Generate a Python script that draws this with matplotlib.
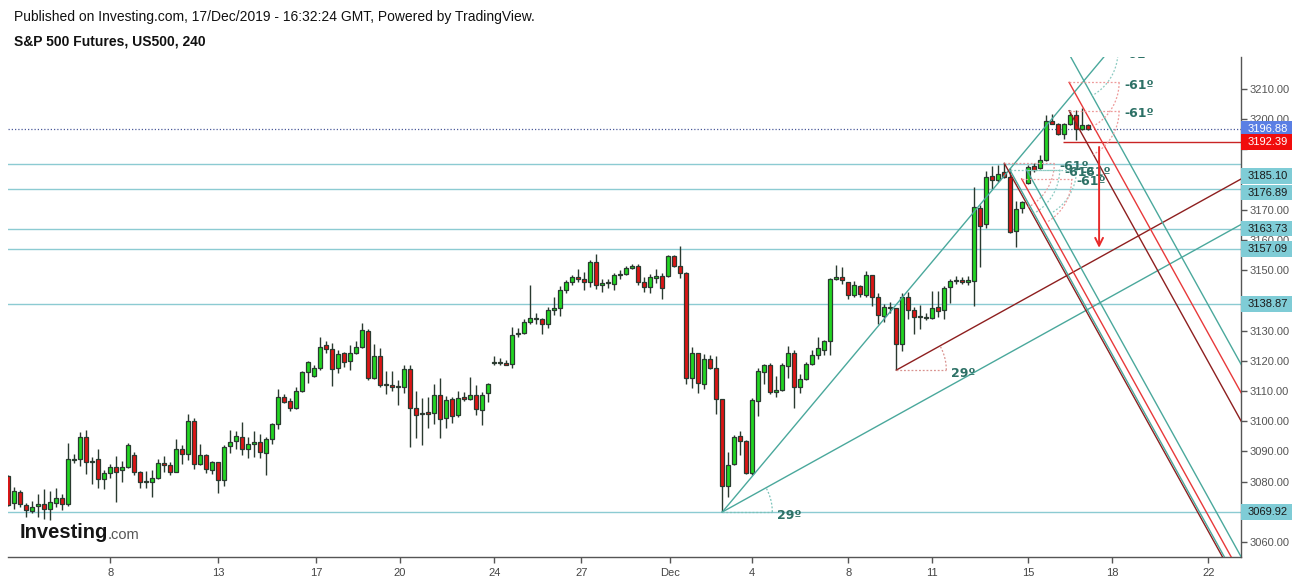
import numpy as np
import matplotlib
matplotlib.use('Agg')
import matplotlib.pyplot as plt
from matplotlib.patches import Rectangle
import matplotlib.transforms as mtransforms

# ---------------- data (4h candles, bar index 0..180) ----------------
opens = [3081.8,3072.8,3076.4,3072.1,3070.4,3071.8,3072.5,3070.8,3072.8,3074.5,
         3072.5,3087.0,3087.4,3094.6,3086.7,3087.4,3080.7,3082.7,3084.7,3083.7,
         3084.7,3088.7,3083.1,3080.1,3080.0,3081.1,3086.0,3085.4,3083.3,3090.7,
         3089.0,3100.0,3085.7,3088.7,3083.7,3086.4,3080.4,3091.7,3093.3,3094.6,
         3090.7,3092.3,3093.0,3089.4,3094.0,3099.0,3107.9,3106.6,3104.3,3109.9,
         3116.2,3114.9,3117.5,3125.1,3123.8,3117.5,3122.5,3119.8,3122.5,3124.5,
         3129.8,3114.2,3121.5,3112.2,3111.9,3111.5,3111.2,3117.2,3104.3,3102.6,
         3102.9,3102.6,3108.6,3101.0,3107.2,3101.9,3107.9,3107.2,3108.6,3103.6,
         3109.2,3119.2,3119.5,3119.2,3118.8,3128.8,3129.1,3132.7,3134.1,3133.7,
         3132.1,3136.7,3137.4,3143.3,3146.0,3147.6,3147.0,3146.0,3152.6,3145.0,
         3146.0,3145.3,3148.3,3148.6,3150.6,3151.3,3146.0,3144.3,3147.3,3148.0,
         3148.0,3154.6,3151.3,3149.0,3114.2,3122.5,3112.2,3120.5,3117.5,3107.2,
         3078.4,3085.7,3095.0,3093.3,3082.7,3106.6,3116.2,3118.5,3109.6,3110.2,
         3118.2,3122.5,3111.2,3113.9,3118.8,3121.8,3123.5,3126.5,3147.0,3147.6,
         3146.0,3141.7,3144.7,3141.7,3148.3,3141.0,3134.7,3137.7,3137.4,3125.5,
         3141.0,3136.7,3134.7,3134.4,3134.1,3137.7,3136.7,3144.3,3146.3,3146.6,
         3146.0,3146.3,3170.5,3165.2,3181.1,3179.8,3182.4,3180.8,3162.9,3170.5,
         3178.8,3184.4,3183.7,3186.4,3199.3,3198.3,3195.0,3198.3,3201.3,3196.6,
         3198.0]
highs = [3082.2,3078.1,3077.1,3072.8,3073.4,3075.9,3077.5,3076.8,3077.8,3075.9,
         3092.7,3089.1,3096.4,3097.1,3088.2,3090.7,3083.8,3085.7,3088.5,3086.7,
         3092.7,3089.8,3083.4,3083.4,3083.8,3087.4,3088.5,3086.6,3094.1,3092.0,
         3102.3,3101.1,3092.3,3089.0,3086.8,3086.6,3092.0,3097.1,3096.6,3099.7,
         3094.8,3096.6,3095.8,3094.6,3099.4,3110.5,3108.9,3107.7,3111.3,3116.6,
         3119.8,3118.5,3127.8,3126.4,3125.8,3123.5,3122.8,3125.1,3126.4,3132.4,
         3130.4,3125.5,3124.1,3116.5,3116.5,3113.5,3118.5,3118.5,3109.9,3107.6,
         3107.9,3112.2,3114.2,3108.2,3107.9,3109.9,3109.6,3114.5,3111.9,3109.6,
         3112.5,3121.5,3120.8,3120.2,3131.1,3130.8,3133.7,3145.0,3135.7,3134.1,
         3137.7,3141.0,3144.7,3146.6,3148.3,3150.3,3149.3,3153.3,3155.2,3147.0,
         3147.0,3149.0,3150.0,3151.3,3152.0,3152.0,3147.6,3148.6,3150.3,3149.0,
         3154.9,3154.9,3157.9,3149.3,3124.5,3122.5,3122.1,3121.8,3121.5,3107.2,
         3089.7,3095.3,3096.6,3093.7,3107.6,3117.5,3118.8,3119.2,3114.9,3119.2,
         3124.8,3123.5,3115.5,3119.5,3123.5,3127.8,3126.8,3147.3,3151.6,3150.9,
         3146.0,3146.3,3145.0,3149.6,3148.3,3142.3,3138.7,3139.4,3137.4,3142.3,
         3142.7,3137.7,3138.4,3135.7,3143.0,3143.0,3144.7,3147.0,3148.0,3147.6,
         3148.0,3177.4,3171.5,3182.7,3184.4,3184.7,3185.4,3183.7,3172.8,3172.8,
         3184.7,3185.4,3188.0,3201.3,3201.6,3198.6,3198.6,3203.0,3203.0,3203.6,
         3198.3]
lows = [3071.9,3070.8,3071.5,3068.2,3069.7,3068.4,3067.7,3067.3,3071.7,3070.6,
        3072.0,3086.0,3085.3,3082.6,3079.3,3077.7,3077.4,3081.0,3073.3,3080.0,
        3084.4,3082.1,3077.7,3077.7,3075.0,3080.9,3083.2,3082.1,3083.0,3085.9,
        3087.1,3084.0,3085.5,3082.7,3082.4,3076.3,3078.5,3089.4,3090.9,3088.8,
        3087.9,3088.1,3087.9,3082.3,3092.4,3097.5,3105.9,3103.2,3104.0,3109.7,
        3112.5,3114.5,3116.8,3122.5,3111.5,3115.8,3117.8,3116.8,3122.1,3124.1,
        3113.5,3113.9,3111.2,3108.9,3109.9,3105.3,3109.2,3091.3,3094.3,3092.0,
        3097.6,3099.0,3094.3,3097.6,3099.3,3101.3,3106.6,3107.0,3101.9,3098.6,
        3106.5,3118.6,3118.5,3118.5,3117.5,3127.8,3128.8,3132.1,3132.1,3128.8,
        3130.8,3135.1,3134.7,3142.3,3145.0,3146.0,3143.3,3144.3,3143.7,3142.7,
        3144.0,3143.3,3147.0,3148.3,3150.3,3145.0,3142.7,3142.3,3145.6,3140.3,
        3147.6,3151.0,3147.3,3112.2,3110.9,3109.2,3110.5,3117.2,3102.3,3069.8,
        3074.8,3085.4,3088.7,3082.4,3082.1,3101.6,3112.2,3108.9,3107.9,3109.9,
        3114.2,3104.3,3109.2,3113.5,3118.5,3120.5,3121.8,3121.8,3146.6,3145.3,
        3140.4,3141.0,3141.0,3141.0,3138.0,3132.1,3132.7,3135.7,3116.9,3123.1,
        3133.7,3128.8,3130.4,3133.4,3133.7,3134.4,3133.7,3139.0,3145.3,3145.3,
        3145.0,3138.0,3150.9,3163.9,3176.8,3179.1,3180.4,3162.2,3157.6,3168.8,
        3178.4,3182.4,3183.4,3186.0,3198.3,3194.7,3193.3,3198.0,3193.0,3196.3,
        3196.3]
closes = [3072.1,3076.7,3072.5,3070.5,3071.5,3072.6,3070.8,3073.1,3074.5,3072.4,
          3087.4,3087.4,3094.6,3086.4,3086.4,3080.7,3082.7,3084.7,3083.3,3084.7,
          3092.0,3083.1,3079.7,3079.7,3081.1,3086.0,3085.4,3083.3,3090.7,3089.0,
          3100.0,3085.7,3088.7,3084.0,3086.4,3080.4,3091.3,3093.0,3095.0,3090.7,
          3092.3,3093.0,3089.7,3094.0,3099.0,3107.9,3106.2,3104.3,3109.9,3116.2,
          3119.5,3117.5,3124.5,3123.8,3117.2,3122.1,3119.5,3122.5,3124.5,3130.1,
          3114.2,3121.5,3111.9,3111.9,3111.2,3111.3,3117.2,3104.3,3101.9,3102.3,
          3102.3,3108.6,3100.6,3106.9,3101.6,3107.6,3107.2,3108.6,3103.9,3108.6,
          3112.2,3119.5,3119.1,3118.7,3128.4,3129.1,3132.7,3134.1,3133.7,3132.1,
          3136.7,3137.4,3143.3,3146.0,3147.6,3147.0,3146.0,3152.6,3145.0,3145.6,
          3145.6,3148.3,3148.6,3150.6,3151.3,3146.0,3144.3,3147.6,3148.0,3144.0,
          3154.6,3151.3,3149.0,3114.2,3122.5,3112.5,3120.5,3117.5,3107.2,3078.4,
          3085.4,3094.7,3093.3,3082.7,3106.9,3116.5,3118.5,3109.6,3110.2,3118.5,
          3122.5,3111.2,3113.9,3118.8,3121.8,3124.1,3126.5,3147.0,3147.6,3146.6,
          3141.7,3145.0,3142.0,3148.3,3141.0,3135.1,3137.7,3137.5,3125.5,3141.0,
          3136.7,3134.4,3134.5,3134.1,3137.4,3136.4,3144.0,3146.3,3146.6,3146.0,
          3146.6,3170.8,3164.5,3180.8,3179.8,3181.7,3180.8,3162.5,3170.2,3172.5,
          3184.1,3183.1,3186.4,3199.3,3198.3,3195.0,3198.3,3201.3,3196.6,3198.0,
          3196.9]

tick_pos = [17, 35, 51.3, 65.3, 81, 95.5, 110.3, 124, 140, 154, 170, 184, 200]
tick_labels = ['8', '13', '17', '20', '24', '27', 'Dec', '4', '8', '11', '15', '18', '22']

y_ticks = list(range(3060, 3211, 10))
y_hidden = [3070, 3140, 3180, 3190]   # fully covered by price boxes

level_prices = [3185.10, 3176.89, 3163.73, 3157.09, 3138.87, 3069.92]
level_label_pos = [3181.2, 3175.7, 3163.73, 3157.09, 3138.87, 3069.92]
last_price = 3196.88
red_level = 3192.39
red_level_start = 175.8

# trend line through two points (bar, price)
trend_a = [(119.0, 3069.9), (176.6, 3206.4)]
# angle tools: (bar, price, angle deg, line colour, arc colour, label)
TEAL = '#4aa89c'
RED = '#e8393a'
DRED = '#8e1f1f'
angle_tools = [
    (119.0, 3069.9, 29, TEAL, '#7cc3ba', '29º'),
    (148.0, 3116.9, 29, DRED, '#d9928f', '29º'),
    (176.6, 3222.3, -61, TEAL, '#8ccbc2', '-61º'),
    (176.8, 3212.2, -61, RED, '#ee9a9a', '-61º'),
    (176.8, 3202.8, -61, DRED, '#ee9a9a', '-61º'),
    (166.0, 3185.4, -61, DRED, '#e4a0a0', '-61º'),
    (166.9, 3183.3, -61, TEAL, '#8ccbc2', '-61º'),
    (169.7, 3183.3, -61, TEAL, '#8ccbc2', '-61º'),
    (168.9, 3180.2, -61, RED, '#ee9a9a', '-61º'),
]
arrow_bar = 181.8
arrow_from, arrow_to = 3190.8, 3157.4

# ---------------- figure ----------------
W, H = 1299, 580
fig = plt.figure(figsize=(W / 100, H / 100), dpi=100)
AX_L, AX_R, AX_T, AX_B = 8, 1241, 57, 557
ax = fig.add_axes([AX_L / W, (H - AX_B) / H, (AX_R - AX_L) / W, (AX_B - AX_T) / H])
x_lo, x_hi = -0.05, 205.45
y_lo, y_hi = 3055.0, 3220.6
ax.set_xlim(x_lo, x_hi)
ax.set_ylim(y_lo, y_hi)
ax_w_px = AX_R - AX_L
ax_h_px = AX_B - AX_T
ppx = ax_w_px / (x_hi - x_lo)
ppy = ax_h_px / (y_hi - y_lo)

# horizontal levels
for p in level_prices:
    ax.axhline(p, color='#8ccbd2', lw=1.0, zorder=1)
ax.axhline(last_price, color='#4b5a9a', lw=0.9, ls=(0, (1, 1.6)), zorder=1.5)
ax.hlines(red_level, red_level_start, x_hi, color='#c92424', lw=1.0, zorder=1.5)

# candles
xs = np.arange(len(opens))
o = np.array(opens); c = np.array(closes); h = np.array(highs); l = np.array(lows)
up = c >= o
edge = '#2a3a30'
ax.vlines(xs, l, h, color=edge, lw=1.0, zorder=2)
bottoms = np.minimum(o, c)
heights = np.maximum(np.abs(c - o), 0.35)
ax.bar(xs[up], heights[up], bottom=bottoms[up], width=0.62, color='#22d622',
       edgecolor=edge, linewidth=0.9, zorder=3)
ax.bar(xs[~up], heights[~up], bottom=bottoms[~up], width=0.62, color='#dd1515',
       edgecolor=edge, linewidth=0.9, zorder=3)

# trend line A (ray)
(xa, ya), (xb, yb) = trend_a
ax.plot([xa, xa + (xb - xa) * 20], [ya, ya + (yb - ya) * 20], color=TEAL, lw=1.0, zorder=4)

# angle tools
R = 50.0
for (x0, y0, ang, lc, ac, lab) in angle_tools:
    t = np.radians(ang)
    dx, dy = np.cos(t) / ppx, np.sin(t) / ppy
    ax.plot([x0, x0 + 3000 * dx], [y0, y0 + 3000 * dy], color=lc, lw=1.0, zorder=4)
    ax.plot([x0, x0 + R / ppx], [y0, y0], color=ac, lw=0.9, ls=(0, (1.5, 1.5)), zorder=4)
    tt = np.linspace(0, t, 30)
    ax.plot(x0 + R * np.cos(tt) / ppx, y0 + R * np.sin(tt) / ppy, color=ac, lw=0.9,
            ls=(0, (1.5, 1.5)), zorder=4)
    ax.text(x0 + (R + 5) / ppx, y0 - 3 / ppy, lab, color='#2d7166', fontsize=9,
            fontweight='bold', family='DejaVu Sans', va='center', ha='left', zorder=5,
            clip_on=True)

# arrow
ax.annotate('', xy=(arrow_bar, arrow_to), xytext=(arrow_bar, arrow_from),
            arrowprops=dict(arrowstyle='->', color='#e82a2a', lw=1.4, mutation_scale=14,
                            shrinkA=0, shrinkB=0), zorder=5)

# axes styling
for s in ['left', 'top']:
    ax.spines[s].set_visible(False)
for s in ['right', 'bottom']:
    ax.spines[s].set_color('#555555')
    ax.spines[s].set_linewidth(1.0)
ax.yaxis.tick_right()
ax.set_yticks(y_ticks)
ax.set_yticklabels(['' if v in y_hidden else '%.2f' % v for v in y_ticks])
ax.set_xticks(tick_pos)
ax.set_xticklabels(tick_labels)
ax.tick_params(axis='y', length=4, width=1, color='#555555', labelcolor='#555555',
               labelsize=8, pad=2)
ax.tick_params(axis='x', length=4, width=1, color='#555555', labelcolor='#444444',
               labelsize=8, pad=4)
for lbl in ax.get_xticklabels():
    lbl.set_family(['Liberation Sans Narrow', 'Liberation Sans'])
for lbl in ax.get_yticklabels():
    lbl.set_family('Liberation Sans')

# price boxes on the right axis
trans = mtransforms.blended_transform_factory(ax.transAxes, ax.transData)
bw = 51 / ax_w_px
bh = 15.5 / ppy
def pbox(p, txt, fc, tc):
    ax.add_patch(Rectangle((1.0, p - bh / 2), bw, bh, transform=trans, fc=fc, ec='none',
                           clip_on=False, zorder=10))
    ax.text(1.0 + 7 / ax_w_px, p, txt, transform=trans, fontsize=8, color=tc,
            family='Liberation Sans', va='center', ha='left', clip_on=False, zorder=11)

for p, lp in zip(level_prices, level_label_pos):
    pbox(lp, '%.2f' % p, '#7fccd6', '#1a1a1a')
pbox(last_price, '%.2f' % last_price, '#5a7fe4', 'white')
pbox(red_level, '%.2f' % red_level, '#f10d0d', 'white')

# header
fig.text(14 / W, 1 - 17 / H,
         'Published on Investing.com, 17/Dec/2019 - 16:32:24 GMT, Powered by TradingView.',
         fontsize=10, family='Liberation Sans', va='center', ha='left', color='#111111')
fig.text(14 / W, 1 - 41 / H, 'S&P 500 Futures, US500, 240', fontsize=10,
         fontweight='bold', family='Liberation Sans', va='center', ha='left', color='#111111')

# logo
fig.text(20 / W, 1 - 533 / H, 'Investing', fontsize=14.5, fontweight='bold',
         family='Liberation Sans', va='center', ha='left', color='#151515')
fig.text(108 / W, 1 - 535 / H, '.com', fontsize=10.5, family='Liberation Sans',
         va='center', ha='left', color='#555555')

fig.savefig('out.png', dpi=100)
